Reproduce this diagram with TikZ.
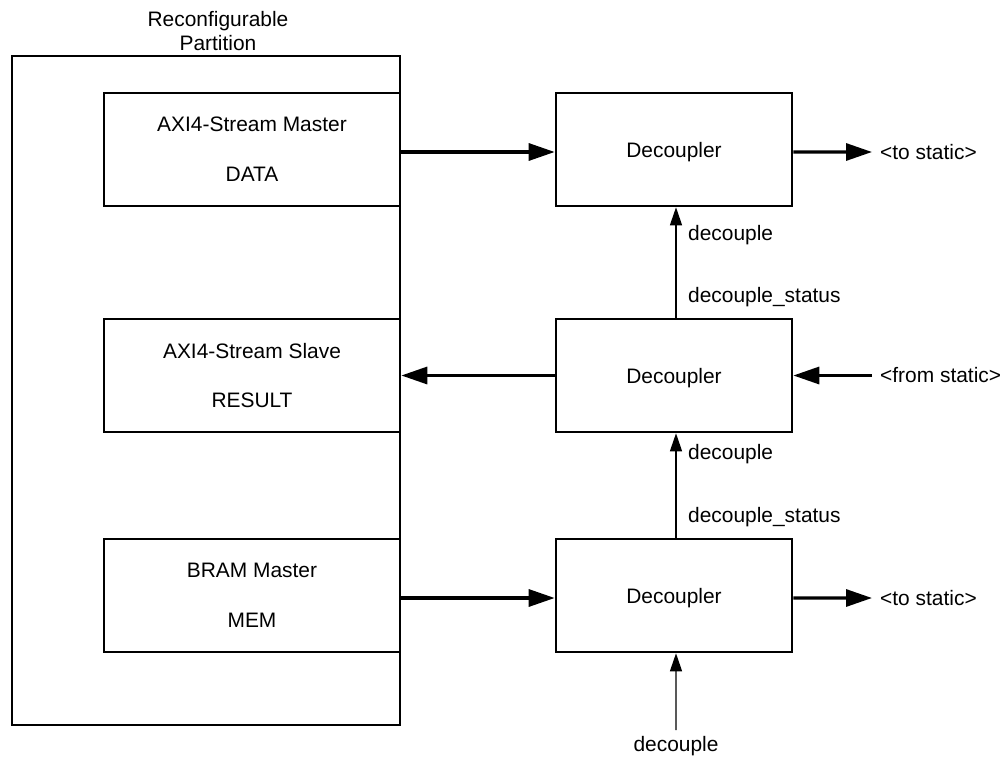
\documentclass[tikz,border=0pt]{standalone}
\usepackage{fontspec}
\setmainfont{Liberation Sans}
\usetikzlibrary{arrows.meta,positioning}
\begin{document}
\begin{tikzpicture}[x=1bp,y=-1bp,
  font=\fontsize{21}{24}\selectfont,
  box/.style={draw,line width=2.6bp,rectangle,inner sep=0pt,align=center,
    font=\fontsize{21}{50}\selectfont},
  ifbox/.style={box,minimum width=296bp,minimum height=113bp},
  decbox/.style={box,text depth=0pt,minimum width=236bp,minimum height=113bp},
  bus/.style={line width=3.2bp,-{Triangle[length=26bp,width=17bp]}},
  sig/.style={line width=1.3bp,-{Triangle[length=18bp,width=12bp]}},
  lbl/.style={inner sep=0pt}]
\useasboundingbox (0,0) rectangle (1007,757);

% reconfigurable partition outline and its title
\node[draw,line width=2.6bp,inner sep=0pt,minimum width=388bp,minimum height=669bp] (rp) at (206,390.5) {};
\node[lbl,align=center,anchor=south] (rptitle) at (218,51) {Reconfigurable\\Partition};

% interfaces inside the partition
\node[ifbox] (b1) at (252,149.5) {AXI4-Stream Master\\DATA};
\node[ifbox] (b2) at (252,375.5) {AXI4-Stream Slave\\RESULT};
\node[ifbox] (b3) at (252,595.5) {BRAM Master\\MEM};

% decouplers
\node[decbox] (d1) at (674,149.5) {Decoupler};
\node[decbox] (d2) at (674,375.5) {Decoupler};
\node[decbox] (d3) at (674,595.5) {Decoupler};

% data paths
\draw[bus] ([yshift=-2.5bp]b1.east) -- ([yshift=-2.5bp]d1.west);
\draw[bus] (d2.west) -- (b2.east);
\draw[bus] ([yshift=-2.5bp]b3.east) -- ([yshift=-2.5bp]d3.west);

% static side
\coordinate (s1) at (872,152);
\coordinate (s2) at (872,375.5);
\coordinate (s3) at (872,598);
\draw[bus] ([yshift=-2.5bp]d1.east) -- (s1);
\draw[bus] (s2) -- (d2.east);
\draw[bus] ([yshift=-2.5bp]d3.east) -- (s3);
\node[lbl,anchor=west] (t1) at (880,152) {<to static>};
\node[lbl,anchor=west] (t2) at (880,375.5) {<from static>};
\node[lbl,anchor=west] (t3) at (880,598) {<to static>};

% decouple chain
\draw[sig] ([xshift=2bp]d2.north) -- ([xshift=2bp]d1.south);
\draw[sig] ([xshift=2bp]d3.north) -- ([xshift=2bp]d3.north |- d2.south);
\coordinate (dc) at (676,730);
\draw[sig] (dc) -- ([xshift=2bp]d3.south);
\node[lbl,anchor=west] (l1) at (688,235) {decouple};
\node[lbl,anchor=west] (l2) at (688,297) {decouple\_status};
\node[lbl,anchor=west] (l3) at (688,454) {decouple};
\node[lbl,anchor=west] (l4) at (688,517) {decouple\_status};
\node[lbl,anchor=base] (l5) at (676,751) {decouple};
\end{tikzpicture}
\end{document}
